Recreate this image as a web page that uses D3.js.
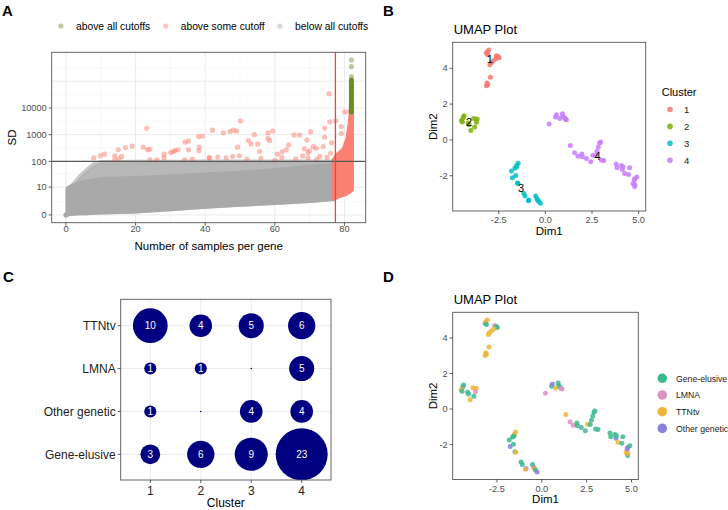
<!DOCTYPE html>
<html>
<head>
<meta charset="utf-8">
<script src="https://cdn.jsdelivr.net/npm/d3@7"></script>
<style>
body { margin: 0; background: #fff; }
text { font-family: "Liberation Sans", Arial, sans-serif; }
</style>
</head>
<body>
<script>
// ---------- panel A data ----------
// grey cloud, envelope per number of samples
var grayX          = [0.6, 2, 4, 6, 8, 10, 20, 30, 40, 50, 60, 70, 77];
var grayLow        = [0.1, 0.15, 0.2, 0.22, 0.25, 0.28, 0.4, 0.7, 1.1, 1.5, 1.9, 2.5, 3.1];
var grayDenseHigh  = [8.5, 11, 14, 16, 18, 20, 22, 25, 30, 35, 45, 60, 70];
var graySparseHigh = [8.5, 12, 25, 45, 75, 90, 92, 92, 94, 94, 95, 95, 95];
// salmon block right of the sample cutoff
var salmonX    = [77, 78, 79, 80, 81, 81.6, 82];
var salmonLow  = [3.3, 4, 4.5, 5, 6, 7, 8];
var salmonHigh = [110, 170, 220, 300, 700, 2500, 7000];
// single salmon points above the SD cutoff
var salmonPtX  = [7.97, 9.9, 11.05, 14.0, 15.0, 15.96, 17.1, 19.0, 14.0, 15.2, 22.2, 23.2, 23.4, 24.1, 24.1, 26.1,
                  28.2, 28.2, 30.1, 30.8, 31.3, 32.2, 34.2, 35.2, 35.2, 34.1, 36.3, 38.1, 39.2, 38.3, 38.2, 41.1,
                  42.1, 45.2, 47.1, 48.1, 49.0, 50.1, 49.3, 52.4, 54.1, 53.2, 55.1, 55.6, 58.0, 58.5, 59.4, 58.0,
                  60.7, 62.1, 64.0, 65.5, 67.1, 69.2, 70.3, 69.5, 69.5, 74.3, 74.3, 73.9, 75.6, 75.8, 77.5, 76.3,
                  79.1, 79.1, 80.1, 81.5, 81.8, 41.3, 43.6, 46.0, 47.9, 49.8, 63.3, 71.9, 72.9,
                  52, 56, 60, 62, 66, 68, 72, 75, 76, 68.5, 70, 71];
var salmonPtSD = [134, 162, 186, 162, 270, 153, 330, 370, 114, 122, 340, 1730, 270, 288, 114, 114,
                  186, 134, 214, 234, 256, 270, 524, 585, 270, 114, 122, 850, 890, 340, 250, 134,
                  1480, 1180, 1320, 1480, 1370, 3300, 340, 600, 1000, 450, 450, 234, 1180, 600, 1370, 735,
                  186, 228, 415, 975, 975, 630, 1290, 214, 134, 800, 1770, 360, 34000, 3000, 3300, 500,
                  2000, 1120, 7100, 7500, 7800, 134, 145, 134, 153, 162, 270, 310, 153,
                  120, 130, 110, 140, 125, 160, 120, 140, 200, 300, 250, 360];
// green column at 82 samples
var greenX = 82;
var greenLow = 7000, greenHigh = 110000;
var greenPtSD = [150000, 350000, 620000];
var sdCut = 100, sampleCut = 77.4;
var sdBreaks = [0, 10, 100, 1000, 10000];
var sdGrid = [0, 10, 100, 1000, 10000, 100000];
var legendA = ["above all cutoffs", "above some cutoff", "below all cutoffs"];
var legendAColor = ["#6B8E23", "#FA8072", "#A9A9A9"];

// ---------- UMAP data (panels B and D) ----------
var dim1 = [-3.16,-3.04,-3.13,-3.09,-2.63,-2.48,-2.54,-2.66,-2.80,-2.91,-2.98,-2.95,-3.13,-3.16,-3.09,
            -4.36,-4.41,-4.50,-4.45,-4.09,-4.14,-4.00,-3.84,-3.66,-3.70,-3.79,
            -1.46,-1.54,-1.55,-1.63,-1.82,-1.59,-1.50,-1.77,-1.46,-1.16,-1.09,-0.88,-0.91,-0.52,-0.45,-0.41,-0.36,-0.27,
            0.20,0.55,0.59,0.91,0.95,1.04,1.13,0.77,1.34,1.57,1.75,1.96,1.98,2.20,2.43,2.55,2.70,2.77,2.84,2.91,
            2.96,3.00,3.13,3.80,3.84,4.07,4.13,4.16,4.25,4.46,4.52,4.70,4.79,4.79,4.91,4.80,1.08,4.76];
var dim2 = [4.83,5.02,4.91,4.76,4.70,4.59,4.65,4.52,4.41,4.31,4.20,3.50,3.17,3.02,3.09,
            1.35,1.24,1.09,1.00,0.85,0.94,0.52,1.20,1.17,0.98,0.72,
            -1.30,-1.43,-1.52,-1.57,-1.74,-1.98,-2.40,-2.11,-2.44,-2.98,-3.13,-3.35,-3.39,-3.13,-3.28,-3.35,-3.43,-3.54,
            0.89,1.28,1.41,1.46,1.31,1.22,1.13,1.19,-0.31,-0.72,-0.91,-0.78,-0.94,-1.04,-1.22,-0.85,-0.87,-0.63,-0.39,-0.17,
            -0.11,-1.13,-1.15,-1.35,-1.56,-1.43,-1.65,-1.50,-1.87,-1.93,-1.56,-2.43,-2.61,-2.17,-2.07,-2.50,1.16,-2.25];
var clusterId = [1,1,1,1,1,1,1,1,1,1,1,1,1,1,1,
                 2,2,2,2,2,2,2,2,2,2,2,
                 3,3,3,3,3,3,3,3,3,3,3,3,3,3,3,3,3,3,
                 4,4,4,4,4,4,4,4,4,4,4,4,4,4,4,4,4,4,4,4,4,4,4,4,4,4,4,4,4,4,4,4,4,4,4,4,4,4];
// G = Gene-elusive, L = LMNA, T = TTNtv, O = Other genetic
var genotype = ["O","T","T","G","L","G","G","T","T","T","T","T","T","T","T",
                "G","G","T","G","G","G","T","T","T","L","G",
                "T","T","G","G","G","G","G","O","T","G","G","O","T","G","O","T","G","O",
                "L","G","O","G","G","G","L","T","T","L","L","G","G","G","G","T","G","G","G","G",
                "G","G","G","G","G","G","O","G","T","G","G","T","G","O","G","T","L","O"];
var clusterNames = [1, 2, 3, 4];
var clusterColor = ["#F8766D", "#7CAE00", "#00BFC4", "#C77CFF"];
var genoCodes  = ["G", "L", "T", "O"];
var genoNames  = ["Gene-elusive", "LMNA", "TTNtv", "Other genetic"];
var genoColor  = ["#3DB990", "#DC94C3", "#F0B43A", "#8A80DE"];

// ---------- panel C data ----------
var genoRows = ["TTNtv", "LMNA", "Other genetic", "Gene-elusive"];
var counts = [[10, 4, 5, 6],
              [1, 1, 0, 5],
              [1, 0, 4, 4],
              [3, 6, 9, 23]];

var svg = d3.select("body").append("svg")
    .attr("width", 728)
    .attr("height", 510);

var tickCol = "#4D4D4D", gridCol = "#EBEBEB", borderCol = "#555";

function panelLetter(t, x, y) {
    svg.append("text").attr("x", x).attr("y", y)
        .style("font-weight", "bold").style("font-size", "15px").text(t);
}

// =================== A ===================
var boxA = {l: 51.7, r: 365.7, t: 52.3, b: 222.7};
var xA = d3.scaleLinear().domain([-4.1, 86.1]).range([boxA.l, boxA.r]);
var lA = d3.scaleLinear().domain([-0.29, 6.08]).range([boxA.b, boxA.t]);
function yA(v) { return lA(Math.log10(v + 1)); }

svg.append("clipPath").attr("id", "clipA").append("rect")
    .attr("x", boxA.l).attr("y", boxA.t).attr("width", boxA.r - boxA.l).attr("height", boxA.b - boxA.t);
var gA = svg.append("g").attr("clip-path", "url(#clipA)");

// grid
[10, 30, 50, 70].forEach(function (v) {
    gA.append("line").attr("x1", xA(v)).attr("x2", xA(v)).attr("y1", boxA.t).attr("y2", boxA.b)
        .attr("stroke", "#F3F3F3").attr("stroke-width", 0.6);
});
[0, 20, 40, 60, 80].forEach(function (v) {
    gA.append("line").attr("x1", xA(v)).attr("x2", xA(v)).attr("y1", boxA.t).attr("y2", boxA.b)
        .attr("stroke", gridCol).attr("stroke-width", 1);
});
sdGrid.forEach(function (v) {
    var lo = Math.log10(v + 1);
    gA.append("line").attr("x1", boxA.l).attr("x2", boxA.r).attr("y1", lA(lo)).attr("y2", lA(lo))
        .attr("stroke", gridCol).attr("stroke-width", 1);
    // minor line half way in transformed space
    gA.append("line").attr("x1", boxA.l).attr("x2", boxA.r).attr("y1", lA(lo + 0.5)).attr("y2", lA(lo + 0.5))
        .attr("stroke", "#F3F3F3").attr("stroke-width", 0.6);
});

// grey cloud
var idxG = d3.range(grayX.length);
var areaSparse = d3.area()
    .x(function (i) { return xA(grayX[i]); })
    .y0(function (i) { return yA(grayLow[i]); })
    .y1(function (i) { return yA(graySparseHigh[i]); });
var areaDense = d3.area()
    .x(function (i) { return xA(grayX[i]); })
    .y0(function (i) { return yA(grayLow[i]); })
    .y1(function (i) { return yA(grayDenseHigh[i]); });
gA.append("path").attr("d", areaSparse(idxG))
    .attr("fill", "#ACACAC").attr("fill-opacity", 0.85)
    .attr("stroke", "#B4B4B4").attr("stroke-opacity", 0.7).attr("stroke-width", 5).attr("stroke-linejoin", "round");
gA.append("path").attr("d", areaDense(idxG))
    .attr("fill", "#A9A9A9")
    .attr("stroke", "#A9A9A9").attr("stroke-width", 5).attr("stroke-linejoin", "round");
gA.append("circle").attr("cx", xA(0)).attr("cy", yA(0)).attr("r", 2.6).attr("fill", "#A9A9A9");

// salmon points
gA.selectAll(null).data(d3.range(salmonPtX.length)).enter().append("circle")
    .attr("cx", function (i) { return xA(salmonPtX[i]); })
    .attr("cy", function (i) { return yA(salmonPtSD[i]); })
    .attr("r", 2.6)
    .attr("fill", "#FA8072").attr("fill-opacity", 0.5);

// salmon block
var idxS = d3.range(salmonX.length);
var areaSalmon = d3.area()
    .x(function (i) { return xA(salmonX[i]); })
    .y0(function (i) { return yA(salmonLow[i]); })
    .y1(function (i) { return yA(salmonHigh[i]); });
gA.append("path").attr("d", areaSalmon(idxS))
    .attr("fill", "#FA8072")
    .attr("stroke", "#FA8072").attr("stroke-width", 5).attr("stroke-linejoin", "round");

// green column
gA.append("line").attr("x1", xA(greenX)).attr("x2", xA(greenX))
    .attr("y1", yA(greenLow)).attr("y2", yA(greenHigh))
    .attr("stroke", "#6B8E23").attr("stroke-width", 5).attr("stroke-linecap", "round");
gA.selectAll(null).data(greenPtSD).enter().append("circle")
    .attr("cx", xA(greenX)).attr("cy", function (d) { return yA(d); })
    .attr("r", 2.6).attr("fill", "#6B8E23").attr("fill-opacity", 0.45);

// cutoff lines
gA.append("line").attr("x1", boxA.l).attr("x2", boxA.r).attr("y1", yA(sdCut)).attr("y2", yA(sdCut))
    .attr("stroke", "#595959").attr("stroke-width", 1.3);
gA.append("line").attr("x1", xA(sampleCut)).attr("x2", xA(sampleCut)).attr("y1", boxA.t).attr("y2", boxA.b)
    .attr("stroke", "#FF3B3B").attr("stroke-width", 1.3);

svg.append("rect").attr("x", boxA.l).attr("y", boxA.t)
    .attr("width", boxA.r - boxA.l).attr("height", boxA.b - boxA.t)
    .attr("fill", "none").attr("stroke", borderCol).attr("stroke-width", 0.9);

// axes A
[0, 20, 40, 60, 80].forEach(function (v) {
    svg.append("line").attr("x1", xA(v)).attr("x2", xA(v)).attr("y1", boxA.b).attr("y2", boxA.b + 3)
        .attr("stroke", "#333").attr("stroke-width", 0.8);
    svg.append("text").attr("x", xA(v)).attr("y", boxA.b + 9.5).attr("text-anchor", "middle")
        .style("font-size", "9.2px").attr("fill", tickCol).text(v);
});
sdBreaks.forEach(function (v) {
    svg.append("line").attr("x1", boxA.l - 3).attr("x2", boxA.l).attr("y1", yA(v)).attr("y2", yA(v))
        .attr("stroke", "#333").attr("stroke-width", 0.8);
    svg.append("text").attr("x", boxA.l - 5).attr("y", yA(v) + 3.2).attr("text-anchor", "end")
        .style("font-size", "9.2px").attr("fill", tickCol).text(v);
});
svg.append("text").attr("x", (boxA.l + boxA.r) / 2).attr("y", 250).attr("text-anchor", "middle")
    .style("font-size", "11.5px").text("Number of samples per gene");
svg.append("text").attr("transform", "translate(16," + ((boxA.t + boxA.b) / 2) + ") rotate(-90)")
    .attr("text-anchor", "middle").style("font-size", "11.5px").text("SD");

// legend A
var legX = [61, 165.7, 280];
legendA.forEach(function (t, i) {
    svg.append("circle").attr("cx", legX[i]).attr("cy", 26).attr("r", 2.6)
        .attr("fill", legendAColor[i]).attr("fill-opacity", 0.45);
    svg.append("text").attr("x", legX[i] + 15).attr("y", 29.5).style("font-size", "10.3px").text(t);
});
panelLetter("A", 2, 16);

// =================== B & D (UMAP) ===================
function padExtent(arr) {
    var e = d3.extent(arr), p = (e[1] - e[0]) * 0.05;
    return [e[0] - p, e[1] + p];
}
var idxU = d3.range(dim1.length);

function umapPanel(box, colorOf, titleY) {
    var x = d3.scaleLinear().domain(padExtent(dim1)).range([box.l, box.r]);
    var y = d3.scaleLinear().domain(padExtent(dim2)).range([box.b, box.t]);
    svg.append("rect").attr("x", box.l).attr("y", box.t)
        .attr("width", box.r - box.l).attr("height", box.b - box.t)
        .attr("fill", "#fff").attr("stroke", borderCol).attr("stroke-width", 0.9);
    svg.selectAll(null).data(idxU).enter().append("circle")
        .attr("cx", function (i) { return x(dim1[i]); })
        .attr("cy", function (i) { return y(dim2[i]); })
        .attr("r", 2.5)
        .attr("fill", colorOf).attr("fill-opacity", 0.85);
    [-2.5, 0, 2.5, 5].forEach(function (v) {
        svg.append("line").attr("x1", x(v)).attr("x2", x(v)).attr("y1", box.b).attr("y2", box.b + 3)
            .attr("stroke", "#333").attr("stroke-width", 0.8);
        svg.append("text").attr("x", x(v)).attr("y", box.b + 12).attr("text-anchor", "middle")
            .style("font-size", "9.2px").attr("fill", tickCol).text(v.toFixed(1));
    });
    [-2, 0, 2, 4].forEach(function (v) {
        svg.append("line").attr("x1", box.l - 3).attr("x2", box.l).attr("y1", y(v)).attr("y2", y(v))
            .attr("stroke", "#333").attr("stroke-width", 0.8);
        svg.append("text").attr("x", box.l - 5).attr("y", y(v) + 3.2).attr("text-anchor", "end")
            .style("font-size", "9.2px").attr("fill", tickCol).text(v);
    });
    svg.append("text").attr("x", (box.l + box.r) / 2).attr("y", box.b + 23.5).attr("text-anchor", "middle")
        .style("font-size", "11.5px").text("Dim1");
    svg.append("text").attr("transform", "translate(437," + ((box.t + box.b) / 2) + ") rotate(-90)")
        .attr("text-anchor", "middle").style("font-size", "11.5px").text("Dim2");
    svg.append("text").attr("x", box.l + 1).attr("y", titleY).style("font-size", "13px").text("UMAP Plot");
    return {x: x, y: y};
}

var boxB = {l: 452.7, r: 645.7, t: 42.3, b: 211};
var sB = umapPanel(boxB, function (i) { return clusterColor[clusterId[i] - 1]; }, 34);
clusterNames.forEach(function (c) {
    var mem = idxU.filter(function (i) { return clusterId[i] === c; });
    var mx = d3.median(mem, function (i) { return dim1[i]; });
    var my = d3.median(mem, function (i) { return dim2[i]; });
    svg.append("text").attr("x", sB.x(mx)).attr("y", sB.y(my) + 4).attr("text-anchor", "middle")
        .style("font-size", "11px").text(c);
});
svg.append("text").attr("x", 661.7).attr("y", 95.5).style("font-size", "11px").text("Cluster");
clusterNames.forEach(function (c, i) {
    var y = 109.5 + i * 16.9;
    svg.append("circle").attr("cx", 670).attr("cy", y).attr("r", 2.8)
        .attr("fill", clusterColor[i]).attr("fill-opacity", 0.85);
    svg.append("text").attr("x", 684).attr("y", y + 3.4).style("font-size", "9.5px").attr("fill", "#222").text(c);
});
panelLetter("B", 383, 16);

var boxD = {l: 452.7, r: 638.3, t: 312.3, b: 479.5};
umapPanel(boxD, function (i) { return genoColor[genoCodes.indexOf(genotype[i])]; }, 304);
genoNames.forEach(function (g, i) {
    var y = 378.3 + i * 16.7;
    svg.append("circle").attr("cx", 662.3).attr("cy", y).attr("r", 4.8).attr("fill", genoColor[i]);
    svg.append("text").attr("x", 676).attr("y", y + 3.2).style("font-size", "8.7px").attr("fill", "#222").text(g);
});
panelLetter("D", 383, 282);

// =================== C ===================
var boxC = {l: 120.7, r: 331, t: 299.3, b: 480};
var xC = d3.scalePoint().domain(clusterNames).range([150.3, 301.7]);
var yC = d3.scalePoint().domain(genoRows).range([325.7, 454.3]);
var rC = d3.scaleSqrt().domain([0, 23]).range([0.8, 26]);

svg.append("clipPath").attr("id", "clipC").append("rect")
    .attr("x", boxC.l).attr("y", boxC.t).attr("width", boxC.r - boxC.l).attr("height", boxC.b - boxC.t);
var gC = svg.append("g").attr("clip-path", "url(#clipC)");
clusterNames.forEach(function (c) {
    gC.append("line").attr("x1", xC(c)).attr("x2", xC(c)).attr("y1", boxC.t).attr("y2", boxC.b)
        .attr("stroke", gridCol).attr("stroke-width", 1);
});
genoRows.forEach(function (g) {
    gC.append("line").attr("x1", boxC.l).attr("x2", boxC.r).attr("y1", yC(g)).attr("y2", yC(g))
        .attr("stroke", gridCol).attr("stroke-width", 1);
});
var cells = [];
genoRows.forEach(function (g, r) {
    clusterNames.forEach(function (c, k) { cells.push({g: g, c: c, n: counts[r][k]}); });
});
gC.selectAll(null).data(cells).enter().append("circle")
    .attr("cx", function (d) { return xC(d.c); })
    .attr("cy", function (d) { return yC(d.g); })
    .attr("r", function (d) { return rC(d.n); })
    .attr("fill", "#000080");
gC.selectAll(null).data(cells.filter(function (d) { return d.n > 0; })).enter().append("text")
    .attr("x", function (d) { return xC(d.c); })
    .attr("y", function (d) { return yC(d.g) + 3.6; })
    .attr("text-anchor", "middle").attr("fill", "#fff").style("font-size", "10px")
    .text(function (d) { return d.n; });
svg.append("rect").attr("x", boxC.l).attr("y", boxC.t)
    .attr("width", boxC.r - boxC.l).attr("height", boxC.b - boxC.t)
    .attr("fill", "none").attr("stroke", borderCol).attr("stroke-width", 0.9);
clusterNames.forEach(function (c) {
    svg.append("line").attr("x1", xC(c)).attr("x2", xC(c)).attr("y1", boxC.b).attr("y2", boxC.b + 3)
        .attr("stroke", "#333").attr("stroke-width", 0.8);
    svg.append("text").attr("x", xC(c)).attr("y", boxC.b + 14.5).attr("text-anchor", "middle")
        .style("font-size", "12px").attr("fill", "#222").text(c);
});
genoRows.forEach(function (g) {
    svg.append("line").attr("x1", boxC.l - 3).attr("x2", boxC.l).attr("y1", yC(g)).attr("y2", yC(g))
        .attr("stroke", "#333").attr("stroke-width", 0.8);
    svg.append("text").attr("x", boxC.l - 5).attr("y", yC(g) + 4.2).attr("text-anchor", "end")
        .style("font-size", "12px").attr("fill", "#222").text(g);
});
svg.append("text").attr("x", (boxC.l + boxC.r) / 2).attr("y", 507).attr("text-anchor", "middle")
    .style("font-size", "12px").text("Cluster");
panelLetter("C", 3, 282);
</script>
</body>
</html>
